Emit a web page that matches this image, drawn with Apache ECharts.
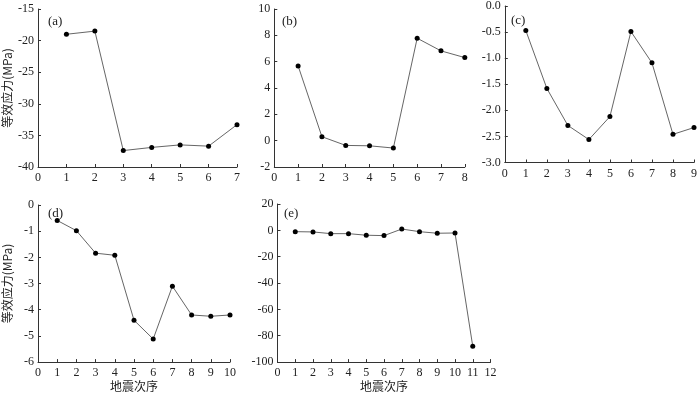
<!DOCTYPE html>
<html><head><meta charset="utf-8">
<script src="https://cdn.jsdelivr.net/npm/echarts@6/dist/echarts.min.js"></script>
<style>html,body{margin:0;padding:0;background:#fff}#c{width:700px;height:393px}</style>
</head><body><div id="c"></div>
<script>
const seqA = [1,2,3,4,5,6,7];
const valA = [-19.0,-18.5,-37.4,-36.9,-36.5,-36.7,-33.3];
const seqB = [1,2,3,4,5,6,7,8];
const valB = [5.68,0.30,-0.36,-0.39,-0.56,7.78,6.82,6.31];
const seqC = [1,2,3,4,5,6,7,8,9];
const valC = [-0.47,-1.58,-2.29,-2.56,-2.12,-0.49,-1.09,-2.46,-2.33];
const seqD = [1,2,3,4,5,6,7,8,9,10];
const valD = [-0.59,-0.98,-1.84,-1.92,-4.40,-5.12,-3.10,-4.20,-4.25,-4.20];
const seqE = [1,2,3,4,5,6,7,8,9,10,11];
const valE = [-1.0,-1.2,-2.5,-2.5,-3.7,-4.0,1.0,-1.0,-2.2,-2.0,-88.0];
const panelLabels = ['(a)','(b)','(c)','(d)','(e)'];
const yName = '等效应力(MPa)';
const xName = '地震次序';

const serif = '"Liberation Serif","Times New Roman",serif';
const cjk = '"Noto Sans CJK SC",sans-serif';
const axisColor = '#333';
const textColor = '#222';

const grids = [
  {left:38, top:9, width:199, height:158},
  {left:274.3, top:9, width:190.5, height:158},
  {left:504.8, top:4, width:192.5, height:158.5},
  {left:36, top:205, width:194, height:159},
  {left:277.5, top:204, width:213, height:159}
];
const xMax = [7,8,9,10,12];
const yCfg = [
  {min:-40,max:-15,interval:5,dec:0},
  {min:-2,max:10,interval:2,dec:0},
  {min:-3,max:0,interval:0.5,dec:1},
  {min:-6,max:0,interval:1,dec:0},
  {min:-100,max:20,interval:20,dec:0}
];
const seqs = [seqA,seqB,seqC,seqD,seqE];
const vals = [valA,valB,valC,valD,valE];

const xAxes = [], yAxes = [], series = [];
for (let i=0;i<5;i++){
  const xa = {
    type:'value', gridIndex:i, min:0, max:xMax[i], interval:1,
    axisLine:{show:true,onZero:false,lineStyle:{color:axisColor,width:1}},
    axisTick:{show:true,inside:true,length:3,lineStyle:{color:axisColor}},
    axisLabel:{color:textColor,fontFamily:serif,fontSize:12,margin:5,showMinLabel:true,showMaxLabel:true},
    splitLine:{show:false}
  };
  if (i===3 || i===4){
    xa.name = xName; xa.nameLocation='middle'; xa.nameGap=17;
    xa.nameTextStyle={color:textColor,fontFamily:cjk,fontSize:12};
  }
  xAxes.push(xa);
  const yc = yCfg[i];
  const ya = {
    type:'value', gridIndex:i, min:yc.min, max:yc.max, interval:yc.interval,
    axisLine:{show:true,onZero:false,lineStyle:{color:axisColor,width:1}},
    axisTick:{show:true,inside:true,length:3,lineStyle:{color:axisColor}},
    axisLabel:{color:textColor,fontFamily:serif,fontSize:12,margin:4,
      formatter:(v)=>Number(v).toFixed(yc.dec)},
    splitLine:{show:false}
  };
  if (i===0 || i===3){
    ya.name = yName; ya.nameLocation='middle'; ya.nameGap=25; ya.nameRotate=90;
    ya.nameTextStyle={color:textColor,fontFamily:cjk,fontSize:12};
  }
  yAxes.push(ya);
  series.push({
    type:'line', xAxisIndex:i, yAxisIndex:i,
    data: seqs[i].map((s,k)=>[s, vals[i][k]]),
    symbol:'circle', symbolSize:5,
    itemStyle:{color:'#000'},
    lineStyle:{color:'#666',width:1},
    animation:false
  });
}
const labelPos = [[48,15],[282,15],[511,14],[48,207],[284,207]];
const graphic = panelLabels.map((t,i)=>({
  type:'text', left:labelPos[i][0], top:labelPos[i][1],
  style:{text:t, fill:textColor, font:'13px '+serif}
}));

const chart = echarts.init(document.getElementById('c'),null,{renderer:'canvas'});
chart.setOption({
  backgroundColor:'#fff',
  animation:false,
  grid:grids,
  xAxis:xAxes, yAxis:yAxes, series:series, graphic:graphic
});
</script></body></html>
